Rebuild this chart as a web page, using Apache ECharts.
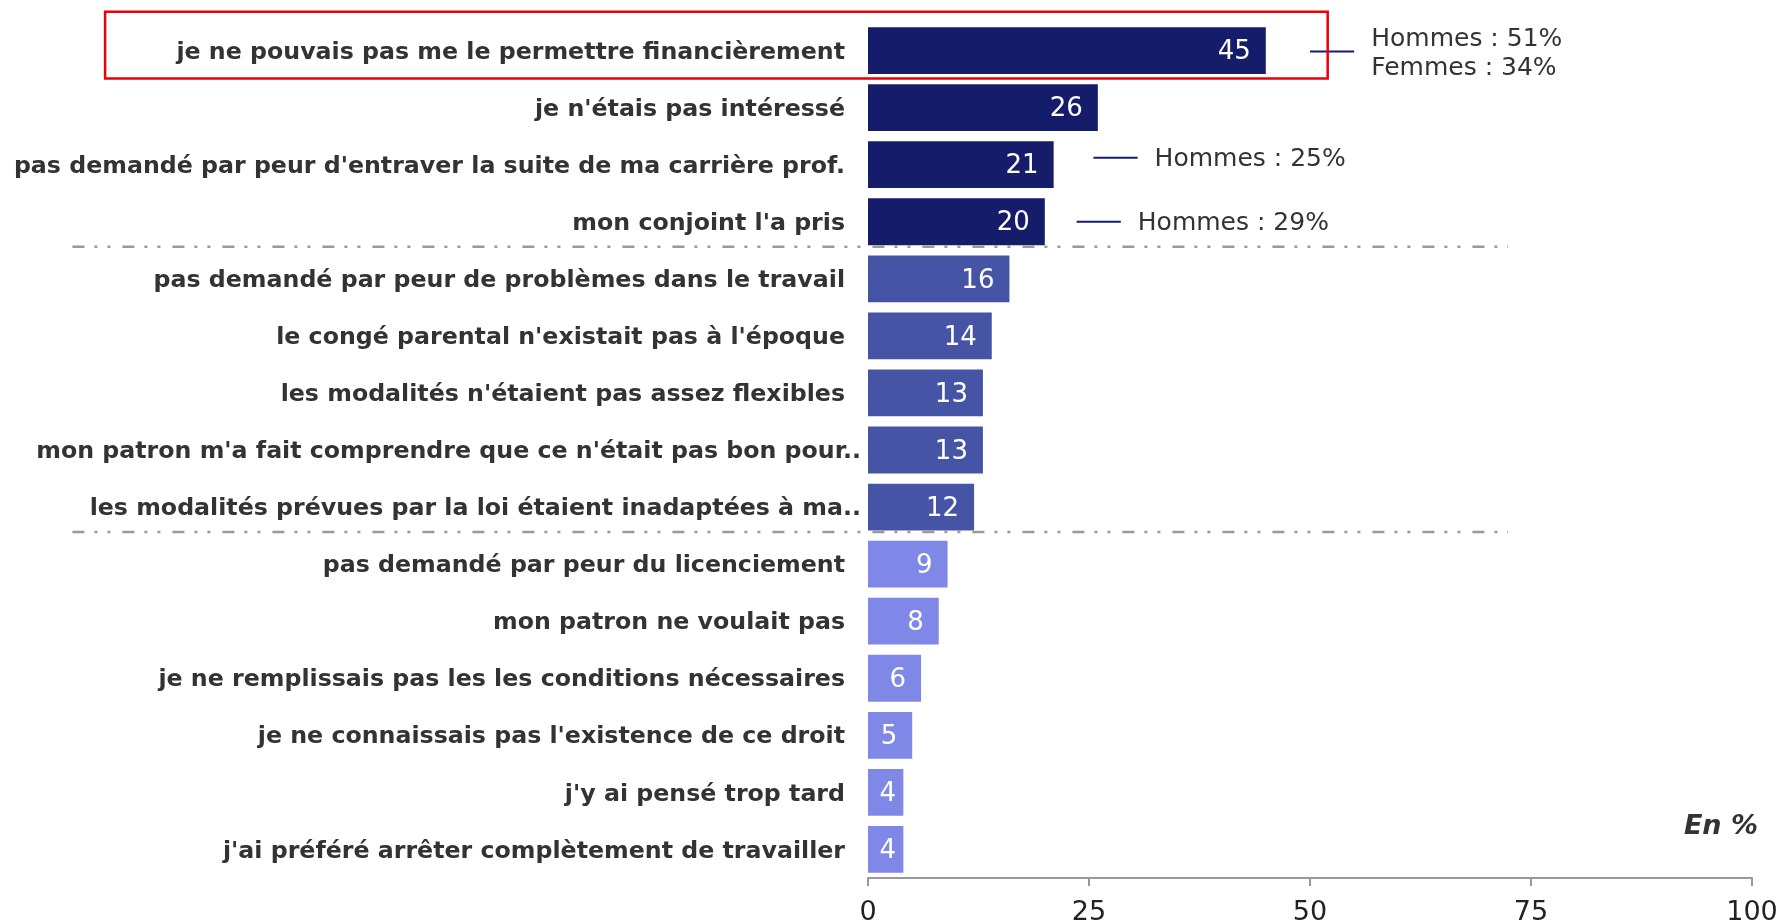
<!DOCTYPE html>
<html>
<head>
<meta charset="utf-8">
<script src="https://cdn.jsdelivr.net/npm/echarts@6/dist/echarts.min.js"></script>
<style>
  html, body { margin: 0; padding: 0; background: #fff; }
  #chart { width: 1783px; height: 924px; }
</style>
</head>
<body>
<div id="chart"></div>
<script>
var categories = [
  "je ne pouvais pas me le permettre financièrement",
  "je n'étais pas intéressé",
  "pas demandé par peur d'entraver la suite de ma carrière prof.",
  "mon conjoint l'a pris",
  "pas demandé par peur de problèmes dans le travail",
  "le congé parental n'existait pas à l'époque",
  "les modalités n'étaient pas assez flexibles",
  "mon patron m'a fait comprendre que ce n'était pas bon pour..",
  "les modalités prévues par la loi étaient inadaptées à ma..",
  "pas demandé par peur du licenciement",
  "mon patron ne voulait pas",
  "je ne remplissais pas les les conditions nécessaires",
  "je ne connaissais pas l'existence de ce droit",
  "j'y ai pensé trop tard",
  "j'ai préféré arrêter complètement de travailler"
];
var values = [45, 26, 21, 20, 16, 14, 13, 13, 12, 9, 8, 6, 5, 4, 4];
var groups = [0, 0, 0, 0, 1, 1, 1, 1, 1, 2, 2, 2, 2, 2, 2];
var groupColors = ['#151c6a', '#4654a5', '#7f88e6'];
var xTicks = [0, 25, 50, 75, 100];

// notes by gender, next to some bars
var noteRows = [0, 2, 3];
var noteStart = [50, 25.5, 23.6];
var noteTexts = ['Hommes : 51%\nFemmes : 34%', 'Hommes : 25%', 'Hommes : 29%'];

// group separators (after these rows)
var sepAfter = [3, 8];

var chartDom = document.getElementById('chart');
var myChart = echarts.init(chartDom);
var option;

var barData = values.map(function (v, i) {
  var item = { value: v, itemStyle: { color: groupColors[groups[i]] } };
  if (v < 5) {
    item.label = { position: 'inside', offset: [2, 2] };
  }
  return item;
});

var noteData = noteRows.map(function (r, i) {
  return [noteStart[i], r, noteTexts[i]];
});

var sepData = sepAfter.map(function (r) {
  return [-90, r];
});

// small vertical nudges of the notes (px)
var noteDy = [1, -7, 0];

option = {
  animation: false,
  title: {
    text: 'En %',
    right: 20,
    top: 808,
    textStyle: {
      fontFamily: 'DejaVu Sans',
      fontSize: 27,
      fontWeight: 'bold',
      fontStyle: 'italic',
      color: '#333'
    }
  },
  grid: {
    left: 868,
    right: 31,
    top: 22,
    bottom: 46,
    outerBoundsMode: 'none'
  },
  xAxis: {
    type: 'value',
    min: 0,
    max: 100,
    interval: 25,
    splitLine: { show: false },
    axisLine: { show: true, lineStyle: { color: '#999', width: 2 } },
    axisTick: { show: true, length: 8, lineStyle: { color: '#999', width: 2 } },
    axisLabel: {
      fontFamily: 'DejaVu Sans',
      fontSize: 27,
      color: '#222',
      margin: 21,
      formatter: function (v) { return xTicks.indexOf(v) >= 0 ? String(v) : ''; }
    }
  },
  yAxis: {
    type: 'category',
    inverse: true,
    data: categories,
    axisLine: { show: false },
    axisTick: { show: false },
    axisLabel: {
      margin: 7,
      formatter: function (v) {
        // truncated labels run closer to the bars
        return /\.\.$/.test(v) ? '{b|' + v + '}' : '{a|' + v + '}';
      },
      rich: {
        a: {
          fontFamily: 'DejaVu Sans',
          fontSize: 23.7,
          fontWeight: 'bold',
          color: '#333',
          padding: [4, 16, 0, 0]
        },
        b: {
          fontFamily: 'DejaVu Sans',
          fontSize: 23.7,
          fontWeight: 'bold',
          color: '#333',
          padding: [4, 0, 0, 0]
        }
      }
    }
  },
  series: [
    {
      name: 'raisons',
      type: 'bar',
      barCategoryGap: '18%',
      data: barData,
      label: {
        show: true,
        position: 'insideRight',
        distance: 15,
        offset: [0, 2],
        color: '#fff',
        fontFamily: 'DejaVu Sans',
        fontSize: 26
      }
    },
    {
      name: 'notes',
      type: 'custom',
      data: noteData,
      encode: { x: 0, y: 1 },
      renderItem: function (params, api) {
        var dy = noteDy[params.dataIndex];
        var p0 = api.coord([api.value(0), api.value(1)]);
        var p1 = api.coord([api.value(0) + 5, api.value(1)]);
        var y = p0[1] + dy;
        var txt = noteTexts[params.dataIndex];
        return {
          type: 'group',
          children: [
            {
              type: 'line',
              shape: { x1: p0[0], y1: y, x2: p1[0], y2: y },
              style: { stroke: '#151c6a', lineWidth: 2 }
            },
            {
              type: 'text',
              x: p1[0] + 17,
              y: y + 2,
              style: {
                text: txt,
                fill: '#333',
                font: '25px "DejaVu Sans"',
                lineHeight: 29,
                verticalAlign: 'middle',
                align: 'left'
              }
            }
          ]
        };
      }
    },
    {
      name: 'separateurs',
      type: 'custom',
      data: sepData,
      encode: { x: 0, y: 1 },
      z: 5,
      renderItem: function (params, api) {
        var band = api.size([0, 1])[1];
        var a = api.coord([api.value(0), api.value(1)]);
        var b = api.coord([72.4, api.value(1)]);
        var y = a[1] + band / 2 - 3.5;
        return {
          type: 'line',
          shape: { x1: a[0], y1: y, x2: b[0], y2: y },
          style: { stroke: '#9a9a9a', lineWidth: 2.5, lineDash: [12, 10, 3, 10, 3, 12] }
        };
      }
    },
    {
      name: 'cadre',
      type: 'custom',
      data: [[-86.3, 0]],
      encode: { x: 0, y: 1 },
      z: 6,
      renderItem: function (params, api) {
        var band = api.size([0, 1])[1];
        var a = api.coord([api.value(0), api.value(1)]);
        var b = api.coord([52, api.value(1)]);
        return {
          type: 'rect',
          shape: { x: a[0], y: a[1] - 0.68 * band, width: b[0] - a[0], height: 1.17 * band },
          style: { fill: 'none', stroke: '#e8000b', lineWidth: 2.5 }
        };
      }
    }
  ]
};

option && myChart.setOption(option);
</script>
</body>
</html>
